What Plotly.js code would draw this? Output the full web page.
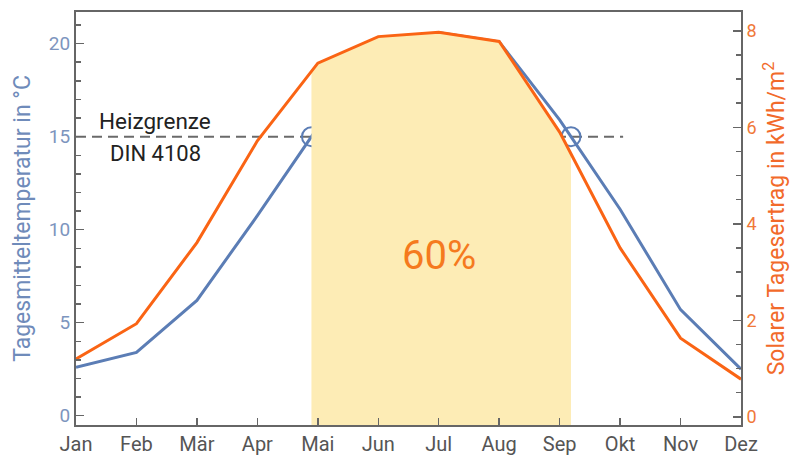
<!DOCTYPE html>
<html>
<head>
<meta charset="utf-8">
<script src="https://cdn.plot.ly/plotly-3.0.1.min.js"></script>
<style>html,body{margin:0;padding:0;background:#fff;}#chart{width:796px;height:457px;}</style>
</head>
<body>
<div id="chart"></div>
<script>
// ---- data ----
const months = ['Jan','Feb','Mär','Apr','Mai','Jun','Jul','Aug','Sep','Okt','Nov','Dez'];
const monthIdx = [0,1,2,3,4,5,6,7,8,9,10,11];
const temperature = [2.6, 3.4, 6.2, 10.75, 15.5, 18.2, 20.6, 20.1, 15.9, 11.1, 5.7, 2.5];   // °C
const solar = [1.2, 1.93, 3.61, 5.72, 7.33, 7.88, 7.97, 7.78, 5.9, 3.5, 1.63, 0.78];         // kWh/m²
const heizgrenze = 15;               // °C
const heizgrenzeX = [0, 9.05];       // extent of reference line (months)
const shareText = '60%';

const y2Min = -0.17, y2Max = 8.39;

// crossings of temperature with Heizgrenze
function crossings(xs, ys, level){
  const out = [];
  for (let i=0;i<xs.length-1;i++){
    const a=ys[i]-level, b=ys[i+1]-level;
    if (a===0) out.push(xs[i]);
    else if (a*b<0) out.push(xs[i] + (xs[i+1]-xs[i])*(level-ys[i])/(ys[i+1]-ys[i]));
  }
  return out;
}
function interp(xs, ys, x){
  for (let i=0;i<xs.length-1;i++){
    if (x>=xs[i] && x<=xs[i+1]) return ys[i] + (ys[i+1]-ys[i])*(x-xs[i])/(xs[i+1]-xs[i]);
  }
  return ys[ys.length-1];
}
const cx = crossings(monthIdx, temperature, heizgrenze);
const x0 = cx[0], x1 = cx[cx.length-1];
const fillX = [x0], fillY = [interp(monthIdx, solar, x0)];
monthIdx.forEach((m,i)=>{ if (m>x0 && m<x1){ fillX.push(m); fillY.push(solar[i]); } });
fillX.push(x1); fillY.push(interp(monthIdx, solar, x1));
fillX.push(x1, x0); fillY.push(y2Min, y2Min);

const blue = '#5b7db5', orange = '#fa6414';

const traces = [
  {x: fillX, y: fillY, yaxis:'y2', type:'scatter', mode:'lines', fill:'toself',
   fillcolor:'#fdecb5', line:{width:0}, hoverinfo:'skip', showlegend:false},
  {x: heizgrenzeX, y: [heizgrenze, heizgrenze], type:'scatter', mode:'lines',
   line:{color:'rgba(80,80,80,0.85)', width:2, dash:'10px,6px'}, showlegend:false},
  {x: monthIdx, y: solar, yaxis:'y2', type:'scatter', mode:'lines',
   line:{color:orange, width:3}, showlegend:false},
  {x: monthIdx, y: temperature, type:'scatter', mode:'lines',
   line:{color:blue, width:3}, showlegend:false},
  {x: cx, y: cx.map(()=>heizgrenze), type:'scatter', mode:'markers',
   marker:{symbol:'circle-open', size:19, color:blue, line:{width:2, color:blue}}, showlegend:false}
];

const axisCol = '#666666';
const layout = {
  width:796, height:457,
  margin:{l:76, r:55, t:12, b:32},
  paper_bgcolor:'#ffffff', plot_bgcolor:'#ffffff',
  font:{family:'Roboto, sans-serif'},
  showlegend:false,
  xaxis:{
    range:[0,11], tickvals: monthIdx, ticktext: months,
    showgrid:false, zeroline:false,
    showline:true, linecolor:axisCol, linewidth:2, mirror:true,
    ticks:'inside', ticklen:7, tickwidth:1.5, tickcolor:axisCol,
    tickfont:{size:20, color:'#555555'}
  },
  yaxis:{
    range:[-0.5,21.7], tickvals:[0,5,10,15,20],
    showgrid:false, zeroline:false,
    showline:true, linecolor:axisCol, linewidth:2,
    ticks:'inside', ticklen:8, tickwidth:1.5, tickcolor:axisCol,
    minor:{dtick:1, tick0:0, ticks:'inside', ticklen:5, tickwidth:1.5, tickcolor:axisCol},
    tickfont:{size:19, color:'#7d95be'},
    title:{text:'Tagesmitteltemperatur in °C', font:{size:23, color:'#6f8bba'}, standoff:12}
  },
  yaxis2:{
    overlaying:'y', side:'right',
    range:[y2Min,y2Max], tickvals:[0,2,4,6,8],
    showgrid:false, zeroline:false,
    showline:true, linecolor:axisCol, linewidth:2,
    ticks:'inside', ticklen:8, tickwidth:1.5, tickcolor:axisCol,
    minor:{dtick:0.5, tick0:0, ticks:'inside', ticklen:5, tickwidth:1.5, tickcolor:axisCol},
    tickfont:{size:18, color:'#f07838'},
    title:{text:'Solarer Tagesertrag in kWh/m<sup>2</sup>', font:{size:23, color:'#f26a2a'}, standoff:12}
  },
  annotations:[
    {x:1.3, y:15.85, xref:'x', yref:'y', text:'Heizgrenze', showarrow:false,
     font:{size:22.5, color:'#222222'}},
    {x:1.32, y:14.1, xref:'x', yref:'y', text:'DIN 4108', showarrow:false,
     font:{size:22, color:'#222222'}},
    {x:6.0, y:8.6, xref:'x', yref:'y', text:shareText, showarrow:false,
     font:{size:40, color:'#f57a1e'}}
  ]
};

Plotly.newPlot('chart', traces, layout, {displayModeBar:false, staticPlot:true});
</script>
</body>
</html>
